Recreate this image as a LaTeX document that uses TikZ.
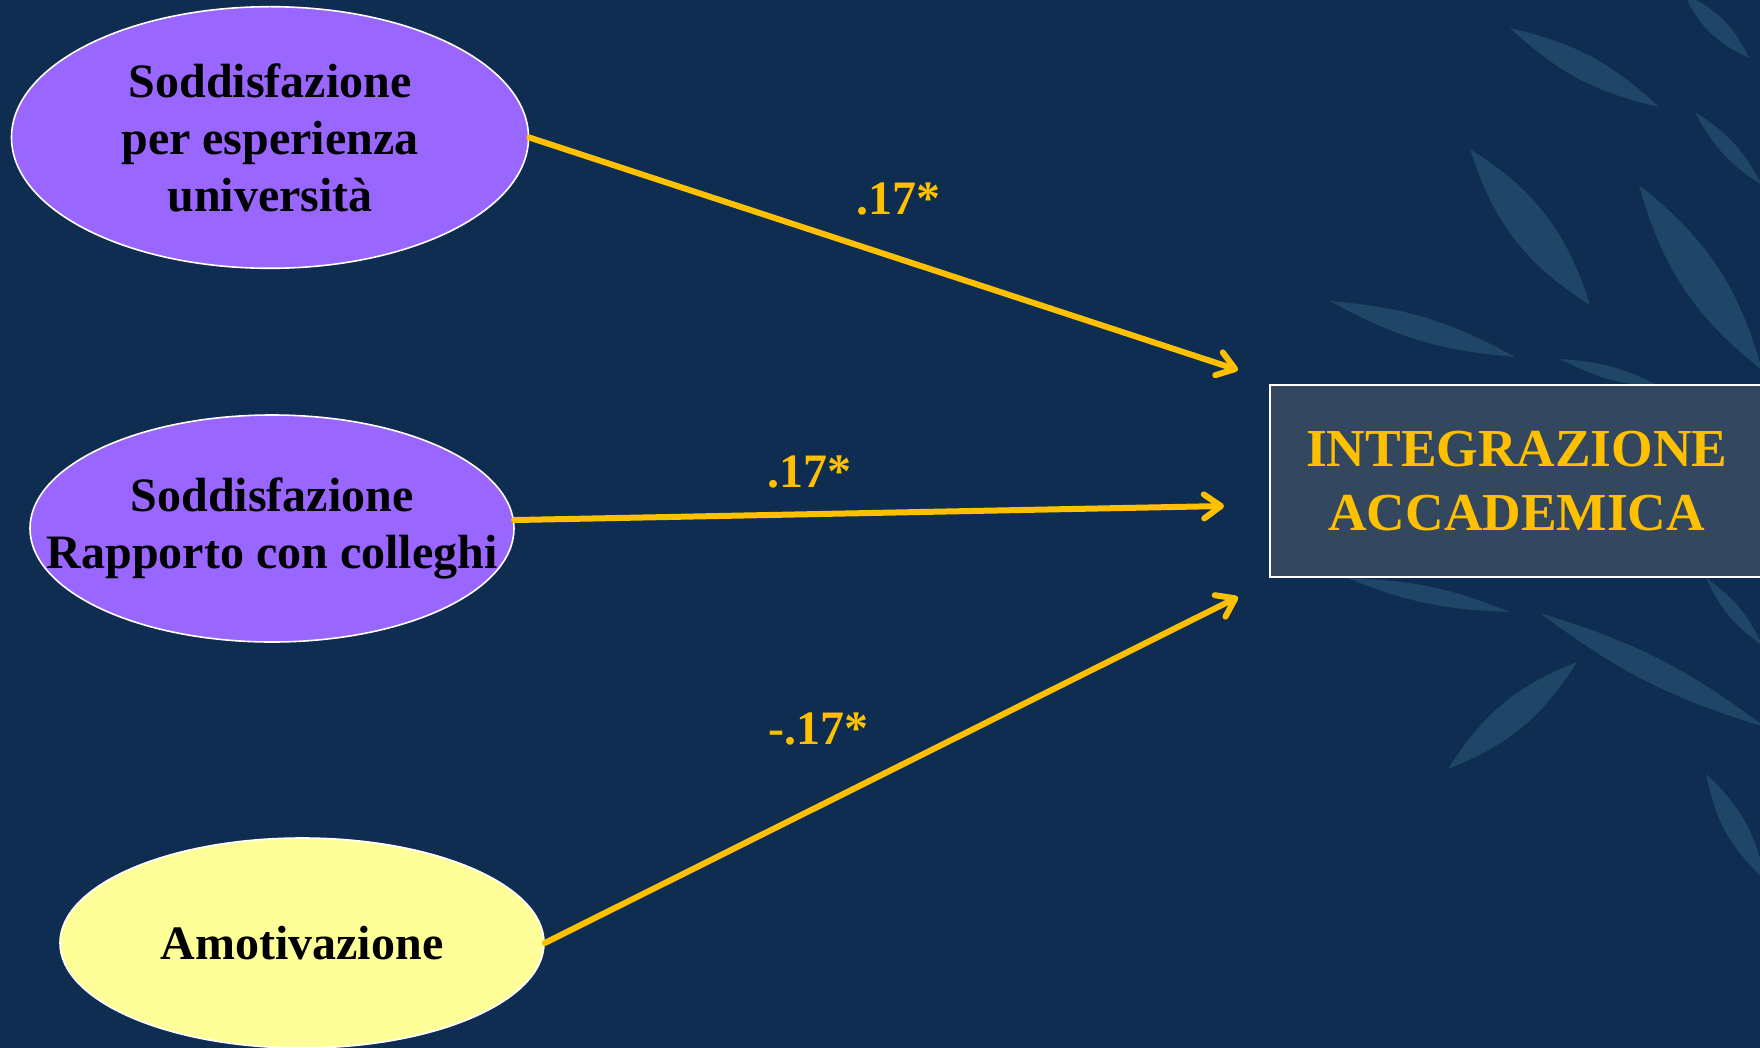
\documentclass[tikz,border=0pt]{standalone}
\usepackage{fontspec}
\setmainfont{Liberation Serif}
\usetikzlibrary{shapes.geometric, arrows.meta}

\definecolor{fondo}{HTML}{0E2D50}
\definecolor{foglia}{HTML}{1F4567}
\definecolor{viola}{HTML}{9966FF}
\definecolor{giallo}{HTML}{FFFF99}
\definecolor{oro}{HTML}{FFC000}
\definecolor{riquadro}{HTML}{33475F}

\tikzstyle{latente} = [
  ellipse, draw=white, line width=0.8pt, inner xsep=-40pt, inner ysep=0pt,
  text centered, align=center, text=black,
  font=\fontsize{24}{28.5}\selectfont\bfseries
]
\tikzstyle{esito} = [
  rectangle, draw=white, line width=1pt, fill=riquadro,
  minimum width=247.25pt, minimum height=96pt,
  text centered, align=center, text=oro,
  font=\fontsize{26.7}{32}\selectfont\bfseries
]
\tikzstyle{peso} = [
  text=oro, anchor=base, font=\fontsize{24}{28}\selectfont\bfseries
]
\tikzset{
  arrow/.style={
    oro, line width=3pt, line cap=round,
    -{Straight Barb[length=8.5pt,width=12pt,round]}
  },
  leaf/.style={fill=foglia}
}

\begin{document}
\begin{tikzpicture}[x=0.5pt, y=-0.5pt]

% ------------------------------------------------
% SFONDO con foglie
% ------------------------------------------------

\fill[fondo] (0,0) rectangle (1760,1048);
\useasboundingbox (0,0) rectangle (1760,1048);

\fill[leaf] (1510,28) to[bend left=15] (1659,107) to[bend left=15] (1510,28);
\fill[leaf] (1684,-6) to[bend left=20] (1749,58) to[bend left=20] (1684,-6);
\fill[leaf] (1695,112) to[bend left=15] (1762,185) to[bend left=15] (1695,112);
\fill[leaf] (1470,149) to[bend left=20] (1590,305) to[bend left=20] (1470,149);
\fill[leaf] (1639,185) to[bend left=18] (1762,370) to[bend left=18] (1639,185);
\fill[leaf] (1330,301) to[bend left=12] (1515,357) to[bend left=12] (1330,301);
\fill[leaf] (1560,359) to[bend left=12] (1661,387) to[bend left=12] (1560,359);
\fill[leaf] (1347,578) to[bend left=10] (1510,612) to[bend left=10] (1347,578);
\fill[leaf] (1540,613) to[bend left=10] (1765,727) to[bend left=10] (1540,613);
\fill[leaf] (1448,769) to[bend left=18] (1577,662) to[bend left=18] (1448,769);
\fill[leaf] (1706,774) to[bend left=18] (1765,880) to[bend left=18] (1706,774);
\fill[leaf] (1706,578) to[bend left=15] (1762,645) to[bend left=15] (1706,578);

% ------------------------------------------------
% PREDITTORI (ellissi a sinistra)
% ------------------------------------------------

\node[latente, fill=viola, minimum width=258.5pt, minimum height=130.8pt]
  (n1) at (270,137.5) {%
  Soddisfazione~\\
  per esperienza~\\
  università%
};

\node[latente, fill=viola, minimum width=242pt, minimum height=113.5pt]
  (n2) at (272,528.5) {%
  Soddisfazione\\
  Rapporto con colleghi%
};

\node[latente, fill=giallo, minimum width=242pt, minimum height=105pt]
  (n3) at (302,943) {%
  Amotivazione%
};

% ------------------------------------------------
% ESITO (riquadro a destra)
% ------------------------------------------------

\node[esito] (n4) at (1516.75,481) {%
  INTEGRAZIONE\\
  ACCADEMICA%
};

\coordinate (t1) at (1238,370);
\coordinate (t2) at (1224,506);
\coordinate (t3) at (1238,597);

% ------------------------------------------------
% FRECCE e coefficienti
% ------------------------------------------------

\draw[arrow] (n1.east) -- (t1);
\draw[arrow] (n2.2) -- (t2);
\draw[arrow] (n3.east) -- (t3);

\node[peso] (w1) at (898,215) {.17*};
\node[peso] (w2) at (809,487) {.17*};
\node[peso] (w3) at (818,744) {-.17*};

\end{tikzpicture}
\end{document}
